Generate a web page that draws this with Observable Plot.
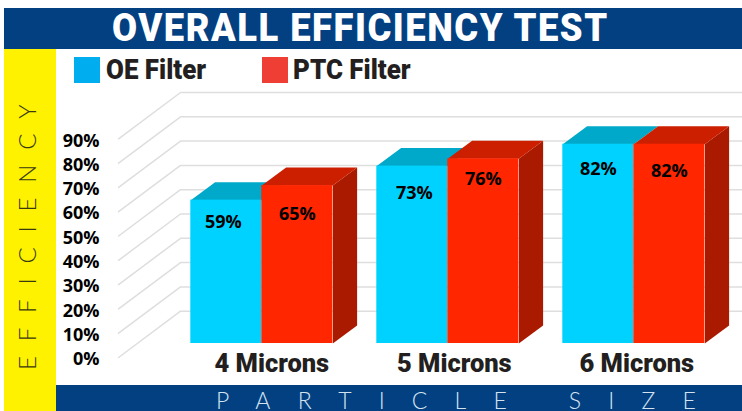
<!DOCTYPE html>
<html><head><meta charset="utf-8">
<script src="https://cdn.jsdelivr.net/npm/d3@7"></script>
<script src="https://cdn.jsdelivr.net/npm/@observablehq/plot@0.6"></script>
<style>
html,body{margin:0;padding:0;background:#fff;overflow:hidden}
#page{position:relative;width:742px;height:411px;overflow:hidden}
#page>*{position:absolute}
.band{background:#024082}
#plot{left:0;top:0;width:742px;height:411px}
#title{left:4px;top:8px;width:738px;height:41px;}
#title span{position:absolute;left:108px;top:-2px;font:900 38.5px/44px Roboto,sans-serif;color:#fff;letter-spacing:1.6px;white-space:nowrap;transform-origin:0 50%;transform:scaleX(.945)}
#yb{left:4px;top:49px;width:52px;height:362px;background:#fff200}
#xb{left:56px;top:385px;width:686px;height:26px}
#xb span{position:absolute;left:160px;top:4px;font:300 23px/22px Lato,sans-serif;color:#d5e3f0;letter-spacing:27.2px;word-spacing:-16px;white-space:pre}
#yl{left:13px;top:90px;height:280px;writing-mode:vertical-rl;transform:rotate(180deg);font:300 24px/28px Lato,sans-serif;color:#3a3a10;letter-spacing:14.8px;white-space:pre}
.sw{width:26px;height:26px;top:57px}
.lg{top:54px;font:900 27px/32px Roboto,sans-serif;color:#231f20;white-space:nowrap;transform-origin:0 50%;transform:scaleX(.96)}
svg{position:absolute;left:0;top:0}
</style></head><body>
<div id="page">
  <div id="plot"></div>
  <div id="title" class="band"><span>OVERALL EFFICIENCY TEST</span></div>
  <div id="yb"></div>
  <div id="xb" class="band"><span>PARTICLE  SIZE</span></div>
  <div id="yl">EFFICIENCY</div>
  <div class="sw" style="left:74px;background:#00aeef"></div>
  <div class="lg" style="left:106px">OE Filter</div>
  <div class="sw" style="left:262px;background:#ef3e33"></div>
  <div class="lg" style="left:293px">PTC Filter</div>
</div>
<script>
const categories = ["4 Microns", "5 Microns", "6 Microns"];
const oeFilter = [59, 73, 82];
const ptcFilter = [65, 76, 82];
const yTicks = [0, 10, 20, 30, 40, 50, 60, 70, 80, 90];

// styling and layout (in scale units / pixels), kept apart from the values
const barW = 71 / 186, depthX = 24.3 / 186, depthY = 18 / 2.43;
const wall = {x0: -0.770, x1: -0.437, x2: 2.6, y0: -5.76, y1: 13.3};
const oeNudge = [[-3, 22.5], [2, 27.5], [0, 24.5]];
const ptcNudge = [[0, 29], [0, 20], [0, 26.5]];
const catShift = [10, 6.5, 3];
const C = {oe:"#00d2ff", oeTop:"#00a9c9", pt:"#ff2600", ptTop:"#cc1f00", ptSide:"#aa1a00"};
const labelFont = {fontFamily:"'Open Sans',sans-serif", fontWeight:700, fontSize:18, fill:"#000"};

const rows = categories.flatMap((c, i) => [
  {i, s:"oe", x1:i - barW, x2:i, v:oeFilter[i], nudge:oeNudge[i]},
  {i, s:"pt", x1:i, x2:i + barW, v:ptcFilter[i], nudge:ptcNudge[i]}
]);
const poly = (r, k, pts) => pts.map(([x, y]) => ({id:`${r.s}${r.i}${k}`, x, y}));
const topFace = r => poly(r, "t", [[r.x1, r.v], [r.x2, r.v], [r.x2 + depthX, r.v + depthY], [r.x1 + depthX, r.v + depthY]]);
const sideFace = r => poly(r, "s", [[r.x2, 0], [r.x2, r.v], [r.x2 + depthX, r.v + depthY], [r.x2 + depthX, depthY]]);
const wallLines = yTicks.flatMap(v => [[wall.x0, wall.y0], [wall.x1, wall.y1], [wall.x2, wall.y1]]
  .map(([x, y]) => ({v, x, y: y + v})));
const faces = (s) => rows.filter(r => r.s === s);

const chart = Plot.plot({
  width: 742, height: 411, margin: 0, marginLeft: 99,
  style: {background: "transparent"},
  x: {type:"linear", domain:[0, 2], range:[261.3, 633.3], axis:null},
  y: {type:"linear", domain:[0, 100], range:[343, 100]},
  marks: [
    Plot.line(wallLines, {x:"x", y:"y", z:"v", stroke:"#dedede", strokeWidth:1.5}),
    Plot.line(faces("oe").flatMap(topFace), {x:"x", y:"y", z:"id", fill:C.oeTop, stroke:null}),
    Plot.rect(faces("oe"), {x1:"x1", x2:"x2", y1:0, y2:"v", fill:C.oe, inset:0}),
    Plot.line(faces("pt").flatMap(sideFace), {x:"x", y:"y", z:"id", fill:C.ptSide, stroke:null}),
    Plot.line(faces("pt").flatMap(topFace), {x:"x", y:"y", z:"id", fill:C.ptTop, stroke:null}),
    Plot.rect(faces("pt"), {x1:"x1", x2:"x2", y1:0, y2:"v", fill:C.pt, inset:0}),
    ...rows.map(r => Plot.text([r], {x:d => (d.x1 + d.x2) / 2, y:"v", text:d => d.v + "%", dx:r.nudge[0], dy:r.nudge[1], ...labelFont})),
    Plot.axisY(yTicks, {anchor:"left", tickSize:0, tickPadding:0, dy:16, label:null, tickFormat:d => d + "%", ...labelFont, fill:"#000"}),
    ...categories.map((c, i) => Plot.text([c], {x:() => i, y:() => 0, text:d => d, dx:catShift[i], dy:20,
      fontFamily:"Roboto,sans-serif", fontWeight:900, fontSize:25.5, fill:"#231f20"}))
  ]
});
document.getElementById("plot").appendChild(chart);
</script>
</body></html>
